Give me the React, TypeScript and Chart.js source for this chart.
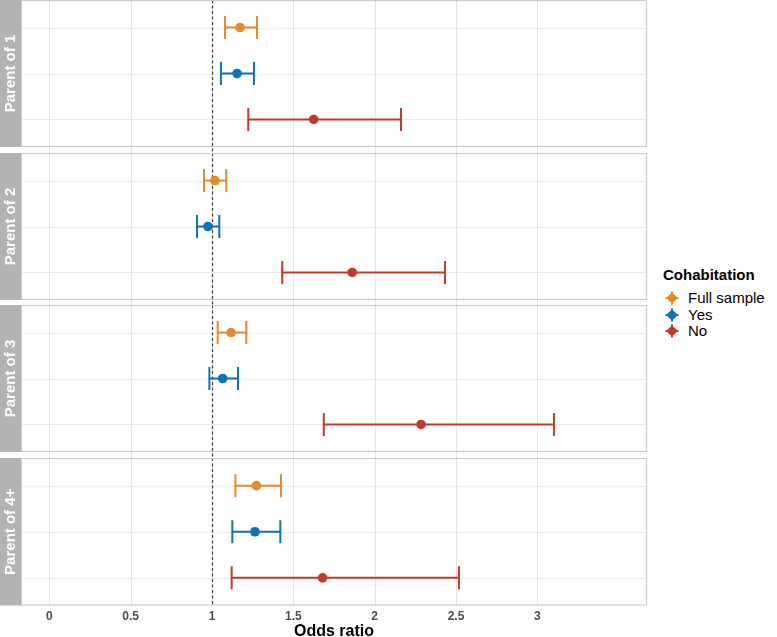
import React, { useEffect, useRef } from "react";
import { Chart, registerables } from "chart.js";

Chart.register(...registerables);

const panelLabels = ["Parent of 1", "Parent of 2", "Parent of 3", "Parent of 4+"];
const groupLabels = ["Full sample", "Yes", "No"];
const groupColors = ["#E8892B", "#0E72BA", "#C0392B"];

const fullEst = [1.172, 1.018, 1.117, 1.273];
const fullLo = [1.08, 0.951, 1.035, 1.144];
const fullHi = [1.277, 1.088, 1.211, 1.424];

const yesEst = [1.154, 0.975, 1.066, 1.264];
const yesLo = [1.055, 0.908, 0.984, 1.125];
const yesHi = [1.258, 1.045, 1.16, 1.42];

const noEst = [1.625, 1.862, 2.285, 1.68];
const noLo = [1.223, 1.432, 1.687, 1.121];
const noHi = [2.162, 2.432, 3.102, 2.518];

const xTickValues = [0, 0.5, 1, 1.5, 2, 2.5, 3];
const xTickLabels = ["0", "0.5", "1", "1.5", "2", "2.5", "3"];
const refLine = 1;
const xMin = -0.174;
const xMax = 3.674;

const estByGroup = [fullEst, yesEst, noEst];
const loByGroup = [fullLo, yesLo, noLo];
const hiByGroup = [fullHi, yesHi, noHi];

const PANEL_TOPS = [0, 153, 305, 458];
const PANEL_H = 147;
const CANVAS_W = 650;
const FONT = "'Liberation Sans', Arial, sans-serif";

const facetPlugin = {
  id: "facetPlugin",
  beforeDatasetsDraw(chart: any) {
    const { ctx, chartArea, scales } = chart;
    const opts = chart.options.plugins.facetPlugin;
    const x = scales.x;
    const y = scales.y;
    const { left, right, top, bottom } = chartArea;
    const lineBottom = opts.isLast ? bottom : chart.height;
    ctx.save();
    ctx.strokeStyle = "#EBEBEB";
    ctx.lineWidth = 1;
    for (let r = 1; r <= groupLabels.length; r++) {
      const py = Math.round(y.getPixelForValue(r)) + 0.5;
      ctx.beginPath();
      ctx.moveTo(left, py);
      ctx.lineTo(right, py);
      ctx.stroke();
    }
    ctx.strokeStyle = "#E6E6E6";
    for (const v of xTickValues) {
      const px = Math.round(x.getPixelForValue(v)) + 0.5;
      ctx.beginPath();
      ctx.moveTo(px, top);
      ctx.lineTo(px, lineBottom);
      ctx.stroke();
    }
    ctx.strokeStyle = "#3A3A3A";
    ctx.lineWidth = 1.2;
    ctx.setLineDash([3, 2.5]);
    const rx = Math.round(x.getPixelForValue(refLine)) + 0.5;
    ctx.beginPath();
    ctx.moveTo(rx, top);
    ctx.lineTo(rx, lineBottom);
    ctx.stroke();
    ctx.setLineDash([]);
    chart.data.datasets.forEach((ds: any) => {
      ctx.strokeStyle = ds.backgroundColor;
      ctx.lineWidth = 2;
      ds.data.forEach((pt: any, j: number) => {
        const py = y.getPixelForValue(pt.y);
        const x1 = x.getPixelForValue(ds.errLo[j]);
        const x2 = x.getPixelForValue(ds.errHi[j]);
        const cap = 11.5;
        ctx.beginPath();
        ctx.moveTo(x1, py);
        ctx.lineTo(x2, py);
        ctx.moveTo(x1, py - cap);
        ctx.lineTo(x1, py + cap);
        ctx.moveTo(x2, py - cap);
        ctx.lineTo(x2, py + cap);
        ctx.stroke();
      });
    });
    ctx.restore();
  },
  afterDraw(chart: any) {
    const { ctx, chartArea } = chart;
    const opts = chart.options.plugins.facetPlugin;
    const { left, right, top, bottom } = chartArea;
    ctx.save();
    ctx.strokeStyle = "#CCCCCC";
    ctx.lineWidth = 1.2;
    ctx.strokeRect(left + 0.5, top + 0.5, right - left - 1, bottom - top - 1);
    ctx.fillStyle = "#B3B3B3";
    ctx.fillRect(0, top, left, bottom - top);
    ctx.translate(left / 2 + 0.5, (top + bottom) / 2);
    ctx.rotate(-Math.PI / 2);
    ctx.fillStyle = "#FFFFFF";
    ctx.font = "bold 15px " + FONT;
    ctx.textAlign = "center";
    ctx.textBaseline = "middle";
    ctx.fillText(opts.label, 0, 0);
    ctx.restore();
  },
};

function Panel({ index }: { index: number }) {
  const ref = useRef<HTMLCanvasElement | null>(null);
  const isLast = index === panelLabels.length - 1;
  const top = PANEL_TOPS[index];
  const canvasH = isLast ? 183 : PANEL_TOPS[index + 1] - top;

  useEffect(() => {
    if (!ref.current) return;
    const datasets = groupLabels.map((g, gi) => ({
      label: g,
      data: [{ x: estByGroup[gi][index], y: gi + 1 }],
      errLo: [loByGroup[gi][index]],
      errHi: [hiByGroup[gi][index]],
      backgroundColor: groupColors[gi],
      borderColor: groupColors[gi],
      pointRadius: 4.8,
      pointBorderWidth: 0,
      pointHoverRadius: 4.8,
    }));
    const chart = new Chart(ref.current, {
      type: "scatter",
      data: { datasets } as any,
      plugins: [facetPlugin as any],
      options: {
        animation: false,
        responsive: false,
        events: [],
        layout: {
          autoPadding: false,
          padding: { left: 21, right: 3, top: 0, bottom: isLast ? 0 : canvasH - PANEL_H },
        },
        plugins: {
          legend: { display: false },
          tooltip: { enabled: false },
          facetPlugin: { label: panelLabels[index], isLast },
        } as any,
        scales: {
          x: {
            type: "linear",
            min: xMin,
            max: xMax,
            display: isLast,
            afterBuildTicks: (axis: any) => {
              axis.ticks = xTickValues.map((v) => ({ value: v }));
            },
            grid: { display: false, drawTicks: false },
            border: { display: false },
            ticks: {
              padding: 3.5,
              color: "#4D4D4D",
              font: { family: FONT, size: 12, weight: "bold", lineHeight: 1.2 },
              maxRotation: 0,
              autoSkip: false,
              callback: (_v: any, i: number) => xTickLabels[i],
            },
            title: {
              display: true,
              text: "Odds ratio",
              color: "#000000",
              font: { family: FONT, size: 16, weight: "bold", lineHeight: 1.1 },
              padding: { top: -4, bottom: 0.5 },
            },
          },
          y: {
            type: "linear",
            min: 0.4,
            max: 3.6,
            reverse: true,
            display: false,
          },
        },
      } as any,
    });
    return () => chart.destroy();
  }, [index]);

  return (
    <div style={{ position: "absolute", left: 0, top, width: CANVAS_W, height: canvasH }}>
      <canvas ref={ref} width={CANVAS_W} height={canvasH} style={{ width: CANVAS_W, height: canvasH, display: "block" }} />
    </div>
  );
}

function LegendIcon({ color }: { color: string }) {
  return (
    <svg width={16} height={16} style={{ position: "absolute", left: -8, top: -8 }}>
      <line x1={1.5} y1={8} x2={14.5} y2={8} stroke={color} strokeWidth={2} />
      <line x1={8} y1={1.5} x2={8} y2={14.5} stroke={color} strokeWidth={2} />
      <polygon points="8,2.5 13.5,8 8,13.5 2.5,8" fill={color} />
      <circle cx={8} cy={8} r={4} fill={color} />
    </svg>
  );
}

export default function App() {
  const itemY = [298, 315, 331];
  return (
    <div
      style={{
        position: "fixed",
        left: 0,
        top: 0,
        width: 777,
        height: 637,
        overflow: "hidden",
        background: "#FFFFFF",
        fontFamily: FONT,
      }}
    >
      {panelLabels.map((_, i) => (
        <Panel key={i} index={i} />
      ))}
      <div
        style={{
          position: "absolute",
          left: 663,
          top: 275 - 10,
          height: 20,
          lineHeight: "20px",
          fontSize: 15,
          fontWeight: "bold",
          color: "#000",
          whiteSpace: "nowrap",
        }}
      >
        Cohabitation
      </div>
      {groupLabels.map((g, i) => (
        <div key={g}>
          <div style={{ position: "absolute", left: 671.7, top: itemY[i], width: 0, height: 0 }}>
            <LegendIcon color={groupColors[i]} />
          </div>
          <div
            style={{
              position: "absolute",
              left: 688,
              top: itemY[i] - 10,
              height: 20,
              lineHeight: "20px",
              fontSize: 15,
              color: "#000",
              whiteSpace: "nowrap",
            }}
          >
            {g}
          </div>
        </div>
      ))}
    </div>
  );
}
